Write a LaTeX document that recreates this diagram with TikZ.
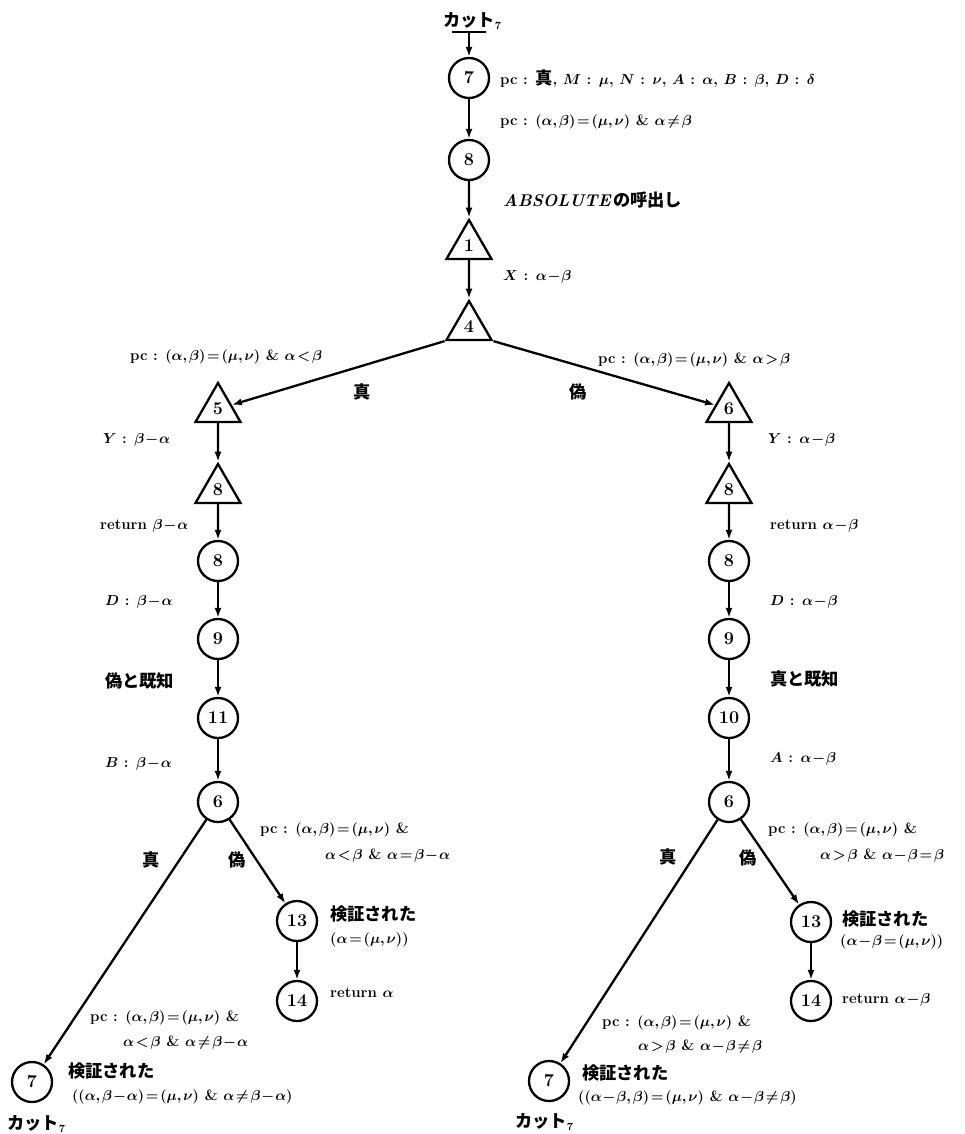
\documentclass[tikz,border=0pt]{standalone}
\usepackage{fontspec}
\newfontfamily\jp{Noto Sans CJK JP}[Scale=1.15]
\usetikzlibrary{arrows.meta,shapes.geometric}
\newcommand\pcx[1]{pc : $#1$}
\newcommand\cutx{{\jp カット}$_{7}$}
\newcommand\asg[2]{$#1$ : $#2$}
\tikzset{
 basefont/.style={font=\fontsize{15}{17}\selectfont\bfseries,
   execute at begin node={\boldmath\thickmuskip=2mu plus 1mu\medmuskip=1mu\thinmuskip=2mu}},
 circ/.style={circle,draw,line width=2.3pt,minimum size=40pt,inner sep=0pt,basefont,font=\fontsize{18}{20}\selectfont\bfseries},
 tri/.style={regular polygon,regular polygon sides=3,draw,line width=2.3pt,minimum size=52pt,inner sep=0pt,basefont,font=\fontsize{18}{20}\selectfont\bfseries},
 bar/.style={draw,line width=1.2pt,minimum width=34pt,minimum height=0pt,inner sep=0pt},
 lab/.style={anchor=west,inner sep=0pt,basefont},
 clab/.style={inner sep=0pt,basefont},
 conn/.style={line width=2.3pt,-{Latex[length=10pt,width=7pt]}},
}
\begin{document}
\begin{tikzpicture}[x=1pt,y=-1pt]
\useasboundingbox (0,0) rectangle (965,1134);
% top spine
\node[bar] (cut) at (469,32) {};
\node[lab] (cutl) at (443,21) {\cutx};
\node[circ] (c7) at (469,78) {7};
\node[circ] (c8) at (469,160) {8};
\node[tri] (t1) at (469,246) {1};
\node[tri] (t4) at (469,327) {4};
% left column
\node[tri] (t5) at (218,409) {5};
\node[tri] (lt8) at (218,490) {8};
\node[circ] (lc8) at (218,561) {8};
\node[circ] (lc9) at (218,639) {9};
\node[circ] (lc11) at (218,718) {11};
\node[circ] (lc6) at (218,802) {6};
\node[circ] (lc13) at (297,921) {13};
\node[circ] (lc14) at (297,1001) {14};
\node[circ] (lc7) at (32,1082) {7};
% right column
\node[tri] (t6) at (729,409) {6};
\node[tri] (rt8) at (729,490) {8};
\node[circ] (rc8) at (729,561) {8};
\node[circ] (rc9) at (729,639) {9};
\node[circ] (rc10) at (729,718) {10};
\node[circ] (rc6) at (729,802) {6};
\node[circ] (rc13) at (811,922) {13};
\node[circ] (rc14) at (811,1001) {14};
\node[circ] (rc7) at (549,1081) {7};
% connectors
\draw[conn] (cut) -- (c7);
\draw[conn] (c7) -- (c8);
\draw[conn] (c8) -- (t1);
\draw[conn] (t1) -- (t4);
\draw[conn] (t4.corner 2) -- (t5);
\draw[conn] (t4.corner 3) -- (t6);
\draw[conn] (t5) -- (lt8);
\draw[conn] (lt8) -- (lc8);
\draw[conn] (lc8) -- (lc9);
\draw[conn] (lc9) -- (lc11);
\draw[conn] (lc11) -- (lc6);
\draw[conn] (lc6) -- (lc13);
\draw[conn] (lc13) -- (lc14);
\draw[conn] (lc6) -- (lc7);
\draw[conn] (t6) -- (rt8);
\draw[conn] (rt8) -- (rc8);
\draw[conn] (rc8) -- (rc9);
\draw[conn] (rc9) -- (rc10);
\draw[conn] (rc10) -- (rc6);
\draw[conn] (rc6) -- (rc13);
\draw[conn] (rc13) -- (rc14);
\draw[conn] (rc6) -- (rc7);
% top labels
\node[lab] (l1) at (500,79) {pc : {\jp 真}, \asg{M}{\mu}, \asg{N}{\nu}, \asg{A}{\alpha}, \asg{B}{\beta}, \asg{D}{\delta}};
\node[lab] (l2) at (500,122) {\pcx{(\alpha,\beta)=(\mu,\nu)} \& $\alpha\neq\beta$};
\node[lab] (l3) at (503,200) {{\fontsize{17}{19}\selectfont\itshape ABSOLUTE}\,{\jp の呼出し}};
\node[lab] (l4) at (503,277) {\asg{X}{\alpha-\beta}};
\node[lab] (l5) at (130,357) {\pcx{(\alpha,\beta)=(\mu,\nu)} \& $\alpha<\beta$};
\node[clab] (l6) at (362,392) {\jp 真};
\node[clab] (l7) at (578,392) {\jp 偽};
\node[lab] (l8) at (598,360) {\pcx{(\alpha,\beta)=(\mu,\nu)} \& $\alpha>\beta$};
% left column labels
\node[lab] (l9) at (103,440) {\asg{Y}{\beta-\alpha}};
\node[lab] (l11) at (100,526) {return $\beta-\alpha$};
\node[lab] (l13) at (105,602) {\asg{D}{\beta-\alpha}};
\node[lab] (l15) at (105,681) {\jp 偽と既知};
\node[lab] (l17) at (105,764) {\asg{B}{\beta-\alpha}};
% right column labels
\node[lab] (l10) at (768,440) {\asg{Y}{\alpha-\beta}};
\node[lab] (l12) at (770,526) {return $\alpha-\beta$};
\node[lab] (l14) at (770,602) {\asg{D}{\alpha-\beta}};
\node[lab] (l16) at (770,679) {\jp 真と既知};
\node[lab] (l18) at (770,759) {\asg{A}{\alpha-\beta}};
% left bottom labels
\node[lab] (lb1) at (260,830) {\pcx{(\alpha,\beta)=(\mu,\nu)} \&};
\node[lab] (lb2) at (325,856) {$\alpha<\beta$ \& $\alpha=\beta-\alpha$};
\node[clab] (lb3) at (151,860) {\jp 真};
\node[clab] (lb4) at (237,860) {\jp 偽};
\node[lab] (lb5) at (330,914) {\jp 検証された};
\node[lab] (lb6) at (330,940) {$(\alpha=(\mu,\nu))$};
\node[lab] (lb7) at (330,993) {return $\alpha$};
\node[lab] (lb8) at (90,1018) {\pcx{(\alpha,\beta)=(\mu,\nu)} \&};
\node[lab] (lb9) at (123,1043) {$\alpha<\beta$ \& $\alpha\neq\beta-\alpha$};
\node[lab] (lb10) at (68,1071) {\jp 検証された};
\node[lab] (lb11) at (72,1097) {$((\alpha,\beta-\alpha)=(\mu,\nu)$ \& $\alpha\neq\beta-\alpha)$};
\node[lab] (lb12) at (7,1124) {\cutx};
% right bottom labels
\node[lab] (rb1) at (768,830) {\pcx{(\alpha,\beta)=(\mu,\nu)} \&};
\node[lab] (rb2) at (820,856) {$\alpha>\beta$ \& $\alpha-\beta=\beta$};
\node[clab] (rb3) at (668,857) {\jp 真};
\node[clab] (rb4) at (748,858) {\jp 偽};
\node[lab] (rb5) at (842,919) {\jp 検証された};
\node[lab] (rb6) at (840,942) {$(\alpha-\beta=(\mu,\nu))$};
\node[lab] (rb7) at (842,1000) {return $\alpha-\beta$};
\node[lab] (rb8) at (602,1023) {\pcx{(\alpha,\beta)=(\mu,\nu)} \&};
\node[lab] (rb9) at (638,1047) {$\alpha>\beta$ \& $\alpha-\beta\neq\beta$};
\node[lab] (rb10) at (582,1073) {\jp 検証された};
\node[lab] (rb11) at (578,1098) {$((\alpha-\beta,\beta)=(\mu,\nu)$ \& $\alpha-\beta\neq\beta)$};
\node[lab] (rb12) at (515,1122) {\cutx};
\end{tikzpicture}
\end{document}
